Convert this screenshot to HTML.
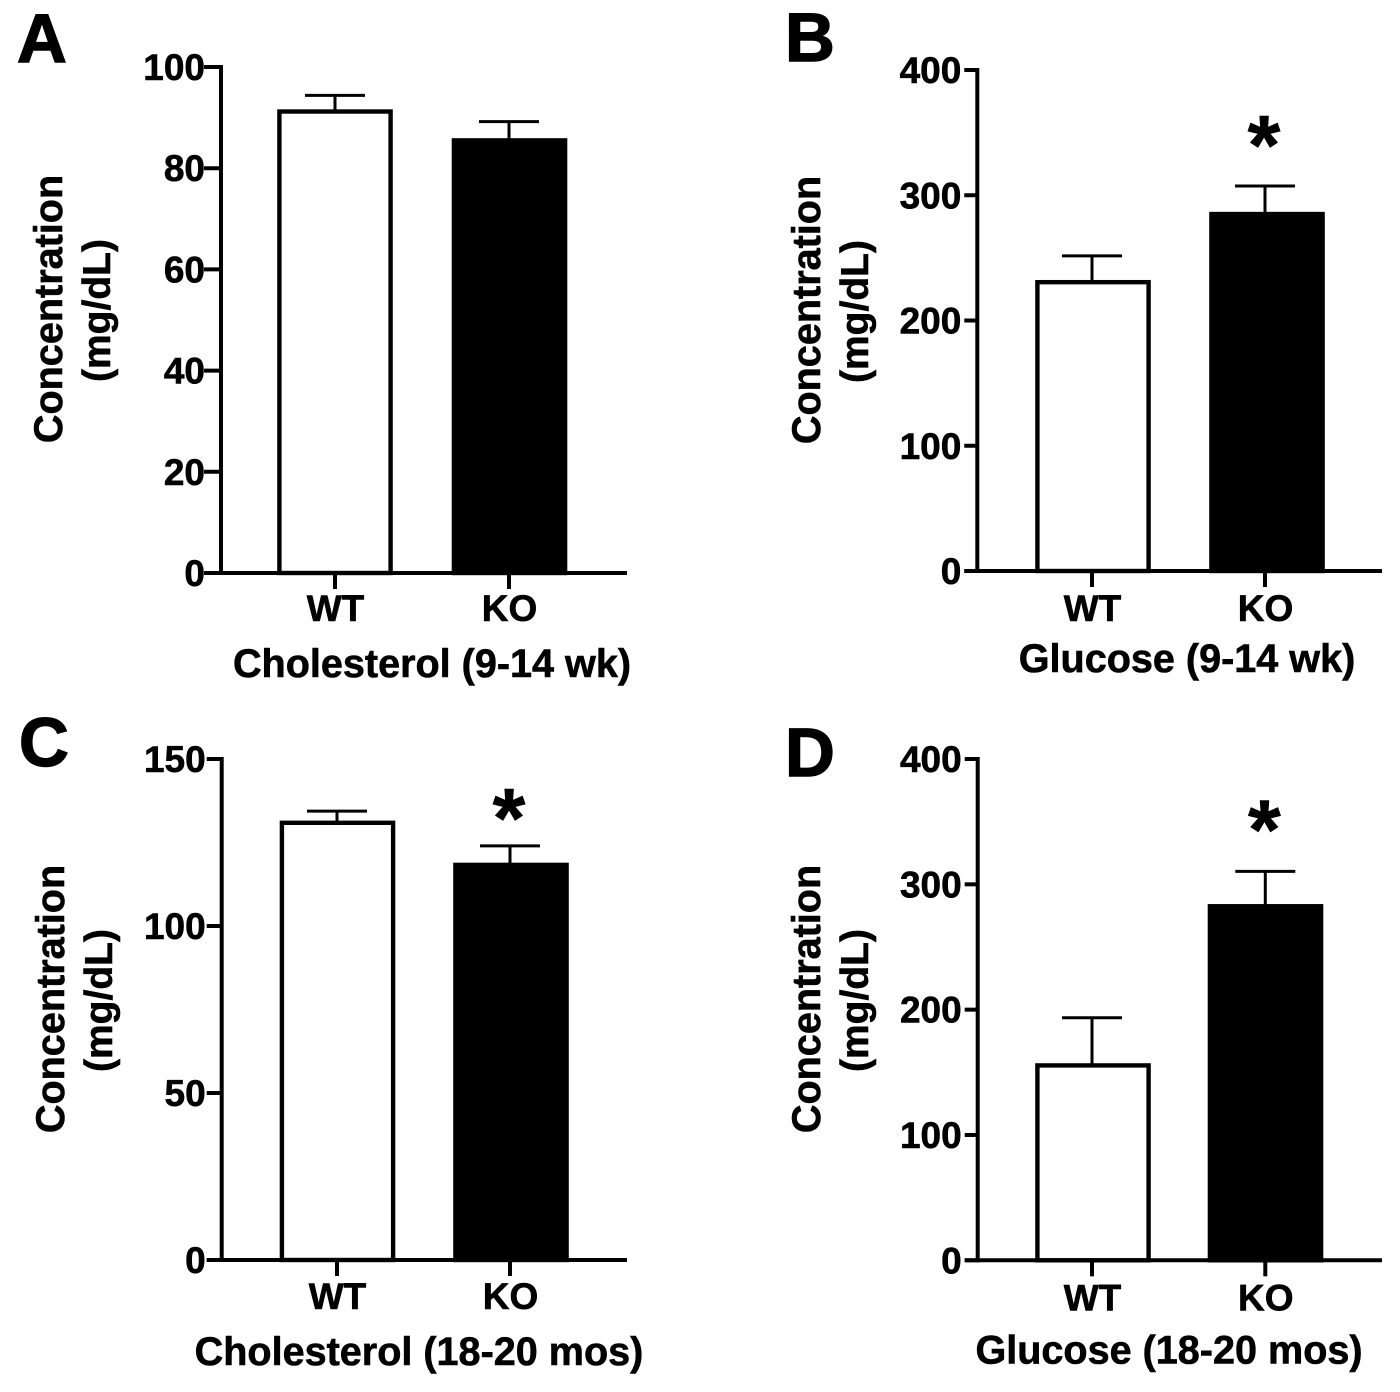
<!DOCTYPE html>
<html>
<head>
<meta charset="utf-8">
<style>
html,body{margin:0;padding:0;background:#fff;width:1400px;height:1392px;overflow:hidden}
svg{display:block;position:absolute;left:0;top:0}
text{font-family:"Liberation Sans",Arial,sans-serif;font-weight:700;fill:#000;stroke:#000;stroke-width:.6px}
</style>
</head>
<body>
<svg id="figure" xmlns="http://www.w3.org/2000/svg" width="1400" height="1392" viewBox="0 0 1400 1392"></svg>
<script>
const categories = ['WT', 'KO'];
const yAxisLine1 = 'Concentration';
const yAxisLine2 = '(mg/dL)';

const panelALetter = 'A';
const panelATitle = 'Cholesterol (9-14 wk)';
const panelATicks = [0, 20, 40, 60, 80, 100];
const panelAMeans = [91.2, 85.5];
const panelAErrors = [3.2, 3.7];
const panelASignificant = [false, false];

const panelBLetter = 'B';
const panelBTitle = 'Glucose (9-14 wk)';
const panelBTicks = [0, 100, 200, 300, 400];
const panelBMeans = [230.6, 285];
const panelBErrors = [21, 22.4];
const panelBSignificant = [false, true];

const panelCLetter = 'C';
const panelCTitle = 'Cholesterol (18-20 mos)';
const panelCTicks = [0, 50, 100, 150];
const panelCMeans = [130.9, 118.3];
const panelCErrors = [3.5, 5.7];
const panelCSignificant = [false, true];

const panelDLetter = 'D';
const panelDTitle = 'Glucose (18-20 mos)';
const panelDTicks = [0, 100, 200, 300, 400];
const panelDMeans = [155.5, 282.5];
const panelDErrors = [38, 27.8];
const panelDSignificant = [false, true];

const SVGNS = 'http://www.w3.org/2000/svg';
const root = document.getElementById('figure');

function line(parent, x1, y1, x2, y2, w) {
  const el = document.createElementNS(SVGNS, 'line');
  el.setAttribute('x1', x1);
  el.setAttribute('y1', y1);
  el.setAttribute('x2', x2);
  el.setAttribute('y2', y2);
  el.setAttribute('stroke', '#000');
  el.setAttribute('stroke-width', w);
  parent.appendChild(el);
  return el;
}

function label(parent, str, x, y, size, anchor) {
  const el = document.createElementNS(SVGNS, 'text');
  el.setAttribute('x', x);
  el.setAttribute('y', y);
  el.setAttribute('font-size', size);
  el.setAttribute('text-anchor', anchor);
  el.textContent = str;
  parent.appendChild(el);
  return el;
}

function drawPanel(key, letter, title, ticks, means, errors, significant, box) {
  const g = document.createElementNS(SVGNS, 'g');
  
  
  root.appendChild(g);

  const maxTick = ticks[ticks.length - 1];
  const yScale = function (v) { return box.y0 - (v / maxTick) * (box.y0 - box.yTop); };

  const letterEl = label(g, letter, box.letterX, box.letterY, 69, 'start');
  
  
  letterEl.style.strokeWidth = '1.4px';

  const yTitle = document.createElementNS(SVGNS, 'g');
  yTitle.setAttribute('transform', 'translate(' + box.yTitleX + ' ' + box.yTitleY + ') rotate(-90)');
  
  
  g.appendChild(yTitle);
  label(yTitle, yAxisLine1, 0, 0, 39.6, 'middle');
  label(yTitle, yAxisLine2, -1.5, 48, 39, 'middle');

  means.forEach(function (m, i) {
    const cx = box.barCenters[i];
    const sx = box.stemCenters[i];
    const half = 55.6;
    const top = yScale(m);
    const errTop = yScale(m + errors[i]);

    const errGroup = document.createElementNS(SVGNS, 'g');
    
    
    g.appendChild(errGroup);
    line(errGroup, sx, top, sx, errTop, 3);
    line(errGroup, sx - 30, errTop, sx + 30, errTop, 3);

    const bar = document.createElementNS(SVGNS, 'rect');
    
    
    bar.setAttribute('x', cx - half);
    bar.setAttribute('y', top);
    bar.setAttribute('width', half * 2);
    bar.setAttribute('height', box.y0 - top);
    bar.setAttribute('fill', i === 0 ? '#fff' : '#000');
    bar.setAttribute('stroke', '#000');
    bar.setAttribute('stroke-width', 4.4);
    g.appendChild(bar);

    const tick = line(g, sx, box.y0, sx, box.y0 + 16, 4);
    
    

    const cat = label(g, categories[i], sx + 0.5, box.y0 + box.catGap, 37, 'middle');
    
    

    if (significant[i]) {
      const star = label(g, '*', sx + box.starDx, errTop - box.starGap, 84, 'middle');
      
      
    }
  });

  const yAxis = line(g, box.x0, box.yTop - 2, box.x0, box.y0 + 2, 4);
  
  

  const xAxis = line(g, box.x0 - box.tickLen, box.y0, box.xEnd, box.y0, 4);
  
  

  ticks.forEach(function (t) {
    const y = yScale(t);
    const tk = line(g, box.x0 - box.tickLen, y, box.x0, y, 4);
    
    
    const tl = label(g, String(t), box.x0 - 16, y + 13, 37, 'end');
    
    
  });

  const xt = label(g, title, box.titleX, box.y0 + box.titleGap, 39.6, 'middle');
  
  
}

drawPanel('a', panelALetter, panelATitle, panelATicks, panelAMeans, panelAErrors, panelASignificant,
  {x0: 221, xEnd: 627, yTop: 67, y0: 573, tickLen: 17, barCenters: [335, 509.5], stemCenters: [335, 509], letterX: 17, letterY: 62, yTitleX: 62, yTitleY: 309, titleX: 432, titleGap: 104, catGap: 48, starGap: 0, starDx: 0});
drawPanel('b', panelBLetter, panelBTitle, panelBTicks, panelBMeans, panelBErrors, panelBSignificant,
  {x0: 977.3, xEnd: 1382, yTop: 70, y0: 571, tickLen: 13, barCenters: [1093, 1267], stemCenters: [1092, 1265], letterX: 785, letterY: 61, yTitleX: 820, yTitleY: 310, titleX: 1187, titleGap: 101, catGap: 50, starGap: 12, starDx: -1});
drawPanel('c', panelCLetter, panelCTitle, panelCTicks, panelCMeans, panelCErrors, panelCSignificant,
  {x0: 221.7, xEnd: 627, yTop: 759, y0: 1260, tickLen: 15, barCenters: [337.5, 511], stemCenters: [337, 510], letterX: 19, letterY: 766, yTitleX: 64, yTitleY: 999, titleX: 419, titleGap: 105, catGap: 49, starGap: -1, starDx: -1});
drawPanel('d', panelDLetter, panelDTitle, panelDTicks, panelDMeans, panelDErrors, panelDSignificant,
  {x0: 977.7, xEnd: 1382, yTop: 759, y0: 1260.3, tickLen: 13, barCenters: [1093, 1265.5], stemCenters: [1092, 1265.3], letterX: 785, letterY: 776, yTitleX: 820, yTitleY: 999, titleX: 1169, titleGap: 103, catGap: 50, starGap: 13, starDx: -1});
</script>
</body>
</html>
